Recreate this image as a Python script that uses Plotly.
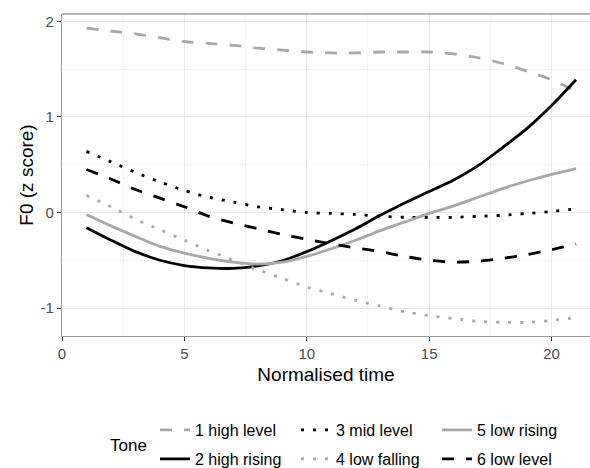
import plotly.graph_objects as go

# ---- data ----
time = list(range(1, 22))
tone_names = ["1 high level", "2 high rising", "3 mid level",
              "4 low falling", "5 low rising", "6 low level"]
tone1 = [1.93, 1.90, 1.87, 1.83, 1.79, 1.77, 1.75, 1.72, 1.70, 1.68, 1.67,
         1.67, 1.68, 1.68, 1.68, 1.66, 1.62, 1.56, 1.48, 1.39, 1.27]
tone2 = [-0.16, -0.29, -0.41, -0.50, -0.555, -0.58, -0.585, -0.56, -0.505, -0.41, -0.295,
         -0.17, -0.03, 0.10, 0.22, 0.34, 0.49, 0.68, 0.88, 1.12, 1.39]
tone3 = [0.64, 0.53, 0.42, 0.32, 0.23, 0.16, 0.11, 0.06, 0.03, 0.00, -0.01,
         -0.02, -0.04, -0.05, -0.05, -0.05, -0.04, -0.03, -0.01, 0.01, 0.04]
tone4 = [0.18, 0.06, -0.07, -0.18, -0.29, -0.40, -0.50, -0.60, -0.69, -0.78, -0.85,
         -0.92, -0.98, -1.04, -1.08, -1.11, -1.14, -1.15, -1.15, -1.13, -1.10]
tone5 = [-0.02, -0.14, -0.25, -0.355, -0.425, -0.48, -0.52, -0.54, -0.52, -0.46, -0.38,
         -0.29, -0.19, -0.10, -0.01, 0.07, 0.16, 0.25, 0.33, 0.40, 0.46]
tone6 = [0.45, 0.35, 0.24, 0.15, 0.06, -0.04, -0.11, -0.17, -0.23, -0.28, -0.33,
         -0.37, -0.41, -0.46, -0.50, -0.52, -0.51, -0.48, -0.44, -0.39, -0.33]
x_ticks = [0, 5, 10, 15, 20]
x_tick_labels = ["0", "5", "10", "15", "20"]
y_ticks = [-1, 0, 1, 2]
y_tick_labels = ["-1", "0", "1", "2"]

series = [tone1, tone2, tone3, tone4, tone5, tone6]

GRAY = "#A8A8A8"
BLACK = "#000000"
styles = [
    (GRAY, "12px,12px"),
    (BLACK, "solid"),
    (BLACK, "3px,9px"),
    (GRAY, "3px,9px"),
    (GRAY, "solid"),
    (BLACK, "12px,12px"),
]
legend_of = ["legend", "legend2", "legend", "legend2", "legend", "legend2"]

W, H = 590, 468
ML, MR, MT, MB = 61.5, 0, 14, 132

fig = go.Figure()
for name, ys, (col, dash), lg in zip(tone_names, series, styles, legend_of):
    fig.add_trace(go.Scatter(
        x=time, y=ys, mode="lines", name=name,
        line=dict(color=col, dash=dash, width=2.8, shape="spline", smoothing=0.8),
        legend=lg,
    ))

FONT = "Liberation Sans, Arial, sans-serif"

def px_to_paper_y(py):
    return (H - MB - py) / (H - MT - MB)

def px_to_paper_x(px):
    return (px - ML) / (W - ML - MR)

legend_common = dict(
    orientation="h", xref="container", yref="container",
    xanchor="left", yanchor="middle",
    font=dict(family=FONT, size=16, color="#000000"),
    entrywidth=96, entrywidthmode="pixels",
    bgcolor="rgba(0,0,0,0)", itemclick=False,
)

fig.update_layout(
    width=W, height=H,
    margin=dict(l=ML, r=MR, t=MT, b=MB, pad=0),
    paper_bgcolor="white", plot_bgcolor="white",
    font=dict(family=FONT),
    legend=dict(x=155 / W, y=1 - 430 / H, **legend_common),
    legend2=dict(x=155 / W, y=1 - 459 / H, **legend_common),
    xaxis=dict(
        range=[0, 21.57], tickvals=x_ticks, ticktext=x_tick_labels,
        ticks="outside", ticklen=4,
        tickcolor="#333333", tickwidth=1,
        tickfont=dict(family=FONT, size=15, color="#4D4D4D"),
        showgrid=True, gridcolor="#EBEBEB", gridwidth=1,
        minor=dict(tickvals=[2.5, 7.5, 12.5, 17.5], showgrid=True,
                   gridcolor="#F4F4F4", gridwidth=1, ticks=""),
        showline=True, linecolor="#9A9A9A", linewidth=1.3,
        zeroline=False, automargin=False,
        title=dict(text="Normalised time", standoff=6,
                   font=dict(family=FONT, size=19, color="#000000")),
    ),
    yaxis=dict(
        range=[-1.293, 2.078], tickvals=y_ticks, ticktext=y_tick_labels,
        ticks="outside", ticklen=4,
        tickcolor="#333333", tickwidth=1,
        tickfont=dict(family=FONT, size=15, color="#4D4D4D"),
        showgrid=True, gridcolor="#EBEBEB", gridwidth=1,
        minor=dict(tickvals=[-0.5, 0.5, 1.5], showgrid=True,
                   gridcolor="#F4F4F4", gridwidth=1, ticks=""),
        showline=True, linecolor="#9A9A9A", linewidth=1.3,
        zeroline=False, automargin=False,
        title=dict(text="F0 (z score)", standoff=1,
                   font=dict(family=FONT, size=19, color="#000000")),
    ),
    shapes=[dict(type="line", xref="paper", yref="paper", x0=0, x1=1, y0=1, y1=1,
                 line=dict(color="#A0A0A0", width=1.5))],
    annotations=[dict(text="Tone", xref="paper", yref="paper",
                      x=px_to_paper_x(108), y=px_to_paper_y(445),
                      xanchor="left", yanchor="middle", showarrow=False,
                      font=dict(family=FONT, size=17, color="#000000"))],
)

fig.write_html("out.html", config={"displayModeBar": False},
               post_script="document.body.style.margin='0px';")
